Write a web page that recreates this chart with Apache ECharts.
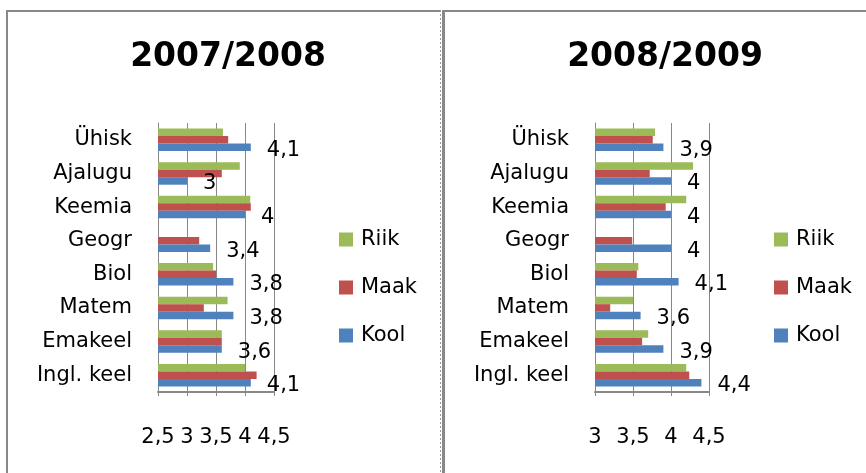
<!DOCTYPE html>
<html>
<head>
<meta charset="utf-8">
<script src="https://cdn.jsdelivr.net/npm/echarts@6/dist/echarts.min.js"></script>
<style>
  html, body { margin: 0; padding: 0; background: #fff; }
  #main { width: 866px; height: 473px; }
</style>
</head>
<body>
<div id="main"></div>
<script>
// ained alt üles (ECharts kategooriatelg algab alt)
const subjects = ['Ingl. keel', 'Emakeel', 'Matem', 'Biol', 'Geogr', 'Keemia', 'Ajalugu', 'Ühisk']

// 2007/2008
const kool0708 = [4.1, 3.6, 3.8, 3.8, 3.4, 4.0, 3.0, 4.1]
const maak0708 = [4.2, 3.6, 3.29, 3.5, 3.21, 4.1, 3.6, 3.71]
const riik0708 = [4.0, 3.6, 3.7, 3.45, null, 4.09, 3.91, 3.62]

// 2008/2009
const kool0809 = [4.4, 3.9, 3.6, 4.1, 4.0, 4.0, 4.0, 3.9]
const maak0809 = [4.24, 3.62, 3.2, 3.55, 3.49, 3.93, 3.72, 3.76]
const riik0809 = [4.2, 3.7, 3.5, 3.57, null, 4.2, 4.29, 3.79]

const ticks0708 = [2.5, 3, 3.5, 4, 4.5]
const ticks0809 = [3, 3.5, 4, 4.5]

const colors = { Riik: '#9bbb59', Maak: '#c0504d', Kool: '#4f81bd' }
const font = 'DejaVu Sans'
const comma = v => String(v).replace('.', ',')

const chart = echarts.init(document.getElementById('main'), null, { renderer: 'canvas' })

const xAxisOf = (idx, ticks) => ({
  type: 'value',
  gridIndex: idx,
  min: ticks[0],
  max: ticks[ticks.length - 1],
  interval: 0.5,
  axisLine: { show: true, lineStyle: { color: '#888', width: 2 } },
  axisTick: { show: true, length: 4, lineStyle: { color: '#888' } },
  splitLine: { show: true, lineStyle: { color: '#888', width: 1 } },
  axisLabel: {
    margin: 35,
    color: '#000',
    fontFamily: font,
    fontSize: 21,
    formatter: comma
  }
})

const yAxisOf = idx => ({
  type: 'category',
  gridIndex: idx,
  data: subjects,
  axisLine: { show: true, lineStyle: { color: '#888', width: 1 } },
  axisTick: { show: false },
  axisLabel: { margin: 26, color: '#000', fontFamily: font, fontSize: 21 }
})

// järjekord grupis ülalt alla: Riik, Maak, Kool
const seriesOf = (idx, kool, maak, riik) => [
  {
    name: 'Riik',
    type: 'bar',
    xAxisIndex: idx,
    yAxisIndex: idx,
    data: riik,
    barGap: '0%',
    barCategoryGap: '33%',
    itemStyle: { color: colors.Riik }
  },
  {
    name: 'Maak',
    type: 'bar',
    xAxisIndex: idx,
    yAxisIndex: idx,
    data: maak,
    barGap: '0%',
    barCategoryGap: '33%',
    itemStyle: { color: colors.Maak }
  },
  {
    name: 'Kool',
    type: 'bar',
    xAxisIndex: idx,
    yAxisIndex: idx,
    data: kool,
    barGap: '0%',
    barCategoryGap: '33%',
    itemStyle: { color: colors.Kool },
    label: {
      show: true,
      position: 'right',
      distance: 16,
      offset: [0, 3],
      color: '#000',
      fontFamily: font,
      fontSize: 21,
      formatter: p => comma(p.value)
    }
  }
]

const legendOf = left => ({
  orient: 'vertical',
  left: left,
  top: 224,
  data: ['Riik', 'Maak', 'Kool'],
  icon: 'rect',
  itemWidth: 14,
  itemHeight: 14,
  itemGap: 27,
  textStyle: { color: '#000', fontFamily: font, fontSize: 21, padding: [0, 0, 0, 3] }
})

const titleOf = (text, center) => ({
  text: text,
  left: center,
  textAlign: 'center',
  top: 36,
  textStyle: { color: '#000', fontFamily: font, fontWeight: 'bold', fontSize: 33 }
})

chart.setOption({
  animation: false,
  backgroundColor: '#fff',
  title: [titleOf('2007/2008', 223), titleOf('2008/2009', 660)],
  legend: [legendOf(334), legendOf(769)],
  grid: [
    { left: 158, top: 123, width: 116, height: 269, containLabel: false },
    { left: 595, top: 123, width: 114, height: 269, containLabel: false }
  ],
  xAxis: [xAxisOf(0, ticks0708), xAxisOf(1, ticks0809)],
  yAxis: [yAxisOf(0), yAxisOf(1)],
  series: [
    ...seriesOf(0, kool0708, maak0708, riik0708),
    ...seriesOf(1, kool0809, maak0809, riik0809)
  ],
  // paneelide raamid
  graphic: [
    { type: 'rect', shape: { x: 6, y: 10, width: 435, height: 2 }, style: { fill: '#888' }, silent: true },
    { type: 'rect', shape: { x: 6, y: 10, width: 2, height: 463 }, style: { fill: '#888' }, silent: true },
    { type: 'line', shape: { x1: 440.5, y1: 10, x2: 440.5, y2: 473 }, style: { stroke: '#999', lineWidth: 1, lineDash: [2, 2] }, silent: true },
    { type: 'rect', shape: { x: 442, y: 10, width: 424, height: 2 }, style: { fill: '#888' }, silent: true },
    { type: 'rect', shape: { x: 442, y: 10, width: 3, height: 463 }, style: { fill: '#888' }, silent: true }
  ]
})
</script>
</body>
</html>
